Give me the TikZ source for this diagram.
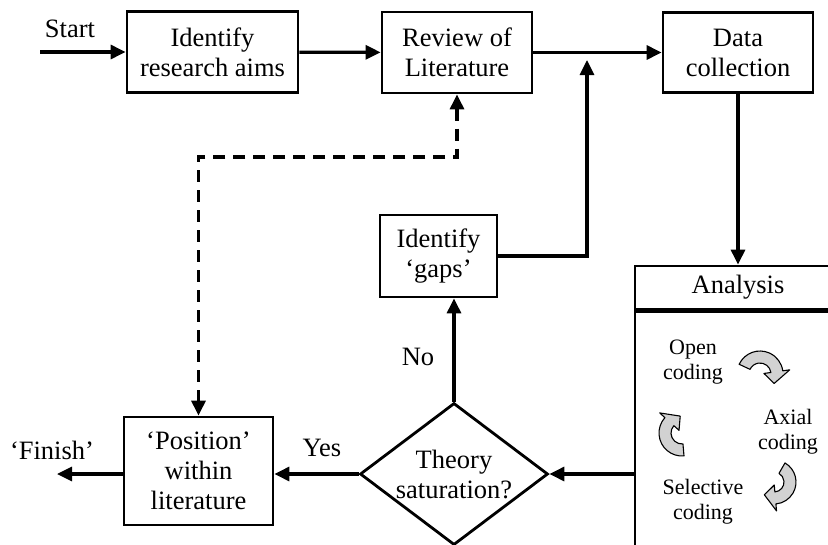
\documentclass[tikz,border=0pt]{standalone}
\usepackage{fontspec}
\setmainfont{Liberation Serif}
\usetikzlibrary{shapes.geometric,arrows.meta,calc}

% curved ribbon arrow: centre, radius, start angle, end angle
\newcommand\codingcurl[4]{%
  \begin{scope}[shift={(#1)}]
    \filldraw[curl] ({#3}:{#2+6}) arc[start angle={#3}, end angle={#4}, radius={#2+6}]
      -- ({#4}:{#2+13}) -- ({#4+42}:{#2}) -- ({#4}:{#2-13}) -- ({#4}:{#2-6})
      arc[start angle={#4}, end angle={#3}, radius={#2-6}] -- cycle;
  \end{scope}}

\begin{document}
\begin{tikzpicture}[x=1pt,y=-1pt,
  line width=2.8pt,
  every node/.style={font=\fontsize{26.5}{30}\selectfont},
  box/.style={draw, rectangle, align=center, inner sep=0pt, line width=2.8pt},
  flow/.style={line width=3.2pt, -{Triangle[length=15pt,width=14pt]}},
  both/.style={line width=3.2pt,
               {Triangle[length=15pt,width=14pt]}-{Triangle[length=15pt,width=14pt]},
               dash pattern=on 12pt off 8pt},
  lbl/.style={inner sep=0pt},
  coding/.style={font=\fontsize{22}{25}\selectfont, align=center, inner sep=0pt},
  curl/.style={draw, fill=gray!35, line width=1.1pt, line join=round}]

  \useasboundingbox (0,0) rectangle (828,544);
  \clip (0,0) rectangle (828,544);

  % main process boxes
  \node[box, minimum width=171pt, minimum height=81pt] (aims) at (212.5,52) {Identify\\research aims};
  \node[box, minimum width=150pt, minimum height=81pt] (rev) at (457,52.5) {Review of\\Literature};
  \node[box, minimum width=150pt, minimum height=80pt] (data) at (738,52.5) {Data\\collection};
  \node[box, minimum width=117pt, minimum height=82pt] (gaps) at (438.5,256) {Identify\\‘gaps’};
  \node[box, minimum width=149pt, minimum height=108pt] (pos) at (198.5,471) {‘Position’\\within\\literature};
  \node[draw, diamond, aspect=1.32, minimum width=188pt, minimum height=142pt,
        inner sep=0pt, align=center, line width=2.8pt] (dia) at (454,474) {Theory\\saturation?};

  % analysis panel
  \node[box, minimum width=206pt, minimum height=43pt] (ana) at (738,287.5) {Analysis};
  \node[draw, minimum width=206pt, minimum height=280pt, anchor=north, inner sep=0pt] (anab) at (ana.south) {};
  \node[coding] (open) at (693,362) {Open\\coding};
  \node[coding] (axial) at (788,432) {Axial\\coding};
  \node[coding] (sel) at (703,502) {Selective\\coding};
  \codingcurl{760,374}{17}{205}{352}
  \codingcurl{774,482}{16}{300}{445}
  \codingcurl{682,433}{17}{85}{222}

  % labels
  \node[lbl] (startlbl) at (70,29) {Start};
  \node[lbl] (finishlbl) at (52,450) {‘Finish’};
  \node[lbl] (yes) at (322,448) {Yes};
  \node[lbl] (no) at (418,357) {No};

  % connectors
  \coordinate (start) at (40,52);
  \coordinate (merge) at (587,60);
  \coordinate (finish) at (57,474);
  \coordinate (bend) at (198.5,157);

  \draw[flow] (start) -- (aims);
  \draw[flow] (aims) -- (rev);
  \draw[flow] (rev) -- (data);
  \draw[flow] (gaps.east) -| (merge);
  \draw[flow] (data) -- (ana);
  \draw[flow] (anab.west |- dia.east) -- (dia.east);
  \draw[flow] (dia.north) -- (dia.north |- gaps.south);
  \draw[flow] (dia.west) -- (dia.west -| pos.east);
  \draw[flow] (pos.west |- dia.west) -- (finish);
  \draw[both] (rev.south) |- (bend) -- (pos.north);
\end{tikzpicture}
\end{document}
